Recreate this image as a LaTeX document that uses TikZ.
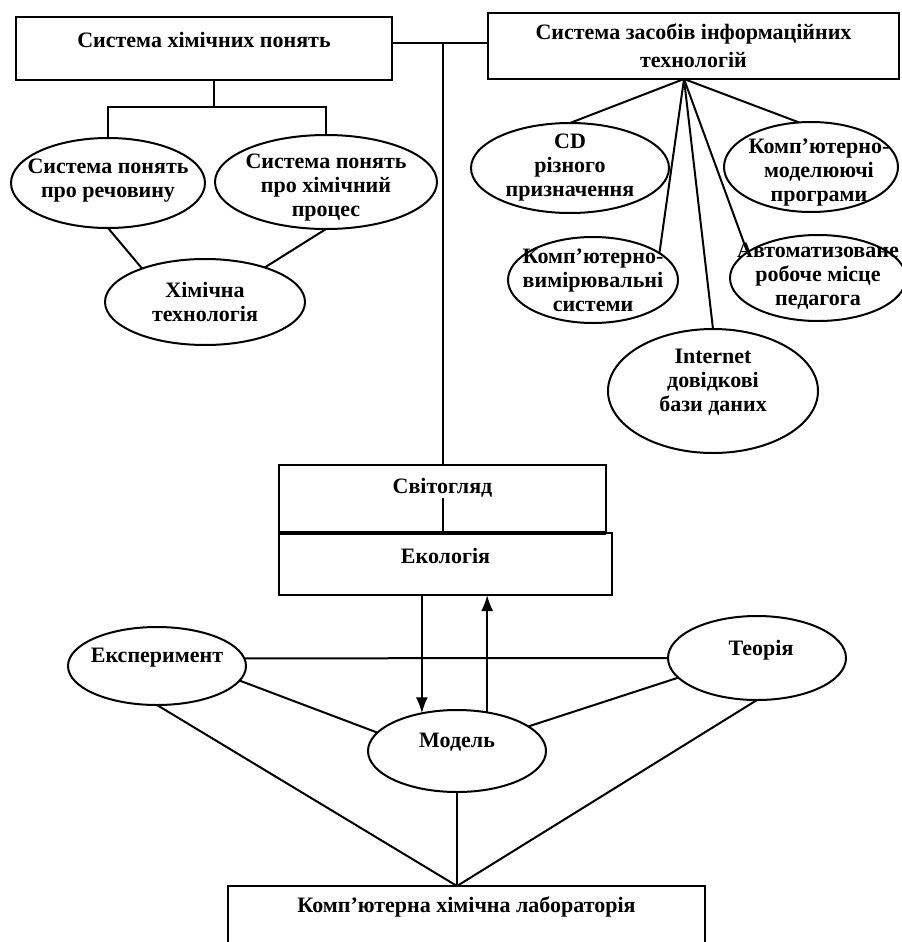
\documentclass[tikz,border=0pt]{standalone}
\usepackage{fontspec}
\setmainfont{Liberation Serif}
\usetikzlibrary{shapes.geometric,arrows.meta,positioning}

\begin{document}
\begin{tikzpicture}[x=0.5pt,y=-0.5pt,line width=1pt,
 every node/.style={outer sep=0pt,font=\bfseries\fontsize{11}{12}\selectfont},
 box/.style={draw,line width=1pt,inner xsep=0pt,inner ysep=4pt},
 bub/.style={draw,ellipse,line width=1pt,inner sep=0pt},
 btxt/.style={align=center,inner sep=0pt},
 arr/.style={-{Latex[length=8pt,width=6pt]}}]
 \useasboundingbox (0,0) rectangle (901,942);

  \node[box,minimum width=188pt,text height=11pt,text depth=12.5pt] (chem) at (204,48.5) {Система хімічних понять};
  \node[box,minimum width=205.5pt,minimum height=33pt,inner ysep=1pt,align=center] (tools) at (693.5,46) {Система засобів інформаційних\\[2pt]технологій};

  \node[box,minimum width=163.5pt,text height=10pt,text depth=16pt] (svit) at (442.5,499) {Світогляд};
  \node[box,below=0pt of svit,xshift=1.5pt,minimum width=166.5pt,text height=11pt,text depth=12pt] (eco) {Екологія};

  \node[box,minimum width=238.5pt,text height=9pt,text depth=20pt] (lab) at (466.5,923) {Комп’ютерна хімічна лабораторія};

  % chemistry concepts
  \node[bub,minimum width=97pt,minimum height=45pt,label={[btxt,yshift=1pt]center:{Система понять\\про речовину}}] (psub) at (108,183) {};
  \node[bub,minimum width=111pt,minimum height=47pt,label={[btxt,yshift=-3pt]center:{Система понять\\про хімічний\\процес}}] (pproc) at (326,182) {};
  \node[bub,minimum width=100pt,minimum height=43pt,label={[btxt]center:{Хімічна\\технологія}}] (ctech) at (205,302) {};

  % IT tools
  \node[bub,minimum width=99pt,minimum height=45pt,label={[btxt]center:{CD\\різного\\призначення}}] (cd) at (570,168) {};
  \node[bub,minimum width=87pt,minimum height=45pt,label={[btxt,xshift=4pt,yshift=-3pt]center:{Комп’ютерно-\\моделюючі\\програми}}] (cmod) at (811,167) {};
  \node[bub,minimum width=85pt,minimum height=43pt,label={[btxt]center:{Комп’ютерно-\\вимірювальні\\системи}}] (cvim) at (593,280) {};
  \node[bub,minimum width=88pt,minimum height=43pt,label={[btxt,yshift=1pt]center:{Автоматизоване\\робоче місце\\педагога}}] (arm) at (818,278) {};
  \node[bub,minimum width=105pt,minimum height=62pt,label={[btxt,yshift=4.5pt]center:{Internet\\довідкові\\бази даних}}] (inet) at (713,391) {};

  \node[bub,minimum width=89pt,minimum height=39pt,label={[btxt,yshift=4pt]center:Експеримент}] (exper) at (157,666) {};
  \node[bub,minimum width=89pt,minimum height=42pt,label={[btxt,xshift=2pt,yshift=4pt]center:Теорія}] (teor) at (757,658) {};
  \node[bub,minimum width=89pt,minimum height=41pt,label={[btxt,yshift=4.5pt]center:Модель}] (model) at (457,751) {};

  \draw ([yshift=3pt]chem.east) coordinate(aux) -- (tools.west|-aux);
  \draw (svit.north|-aux) -- (svit.north);
  \draw (svit.south) -- ++(0,-35);
  \draw[line width=1.8pt] (svit.south west) -- (svit.south east);

  \draw ([xshift=5pt]chem.south) -- ++(0,27) coordinate(fork);
  \draw (psub.north) |- (fork) -| (pproc.north);
  \draw (psub.south) -- (ctech.152);
  \draw (pproc.south) -- (ctech.30);

  \draw ([xshift=-4.75pt]tools.south) coordinate(hub) -- (cd.north);
  \draw (hub) -- (cmod.105);
  \draw (hub) -- (cvim.22);
  \draw (hub) -- (arm.160);
  \draw (hub) -- (inet.north);

  \draw[arr] (model.133|-eco.south) -- (model.133);
  \draw[arr] (model.52) -- (model.52|-eco.south);

  \draw (exper.5) -- (teor.west);
  \draw (exper.-10) -- (model.167);
  \draw (teor.194) -- (model.19);
  \draw (model.south|-lab.north) coordinate(apex) -- (model.south);
  \draw (exper.south) -- (apex) -- (teor.south);
\end{tikzpicture}
\end{document}
